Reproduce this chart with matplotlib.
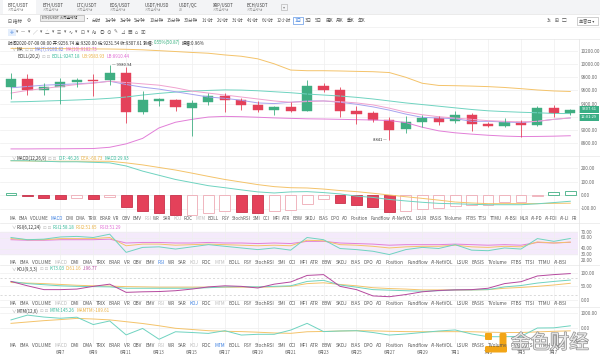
import numpy as np
import matplotlib
matplotlib.use("Agg")
import matplotlib.pyplot as plt
import matplotlib.patheffects as pe
from matplotlib.patches import Rectangle, FancyBboxPatch

plt.rcParams["font.family"] = ["Noto Sans CJK SC", "DejaVu Sans"]

# daily BTC/USDT candles, 6月4 .. 7月8
opens = [9659, 9776, 9609, 9659, 9730, 9765, 9766, 9868, 9278, 9446, 9461, 9335,
         9420, 9511, 9456, 9380, 9304, 9355, 9294, 9674, 9609, 9294, 9253, 9157,
         9009, 9116, 9183, 9131, 9233, 9085, 9055, 9126, 9076, 9335, 9256.74]
closes = [9776, 9613, 9659, 9735, 9765, 9750, 9868, 9278, 9457, 9472, 9344, 9411,
          9511, 9456, 9380, 9304, 9355, 9290, 9674, 9609, 9294, 9243, 9157, 9005,
          9116, 9183, 9126, 9228, 9091, 9055, 9126, 9076, 9335, 9253, 9307.61]
highs = [9861, 9850, 9709, 9791, 9790, 9850, 9980.94, 9953, 9595, 9480, 9470, 9457,
         9566, 9557, 9487, 9441, 9370, 9420, 9755, 9710, 9655, 9370, 9290, 9190,
         9218, 9233, 9210, 9289, 9264, 9120, 9183, 9150, 9370, 9380, 9320]
lows = [9472, 9530, 9533, 9396, 9655, 9515, 9685, 9100, 9245, 9365, 9290, 8913,
        9385, 9270, 9295, 9270, 9230, 9270, 9280, 9570, 9203, 9083, 9112, 8841,
        8956, 9051, 9080, 9100, 8975, 9040, 9040, 8898, 9060, 9200, 9231.54]

ma7 = [9640, 9660, 9680, 9690, 9700, 9715, 9740, 9690, 9650, 9620, 9580, 9540,
       9500, 9480, 9450, 9410, 9400, 9420, 9440, 9440, 9420, 9390, 9350, 9300,
       9240, 9190, 9180, 9170, 9130, 9130, 9120, 9110, 9130, 9160, 9180.82]
ma10 = [9560, 9600, 9630, 9660, 9690, 9710, 9740, 9720, 9700, 9680, 9640, 9590,
        9560, 9530, 9500, 9470, 9440, 9420, 9430, 9440, 9430, 9410, 9380, 9330,
        9270, 9230, 9200, 9180, 9160, 9140, 9130, 9120, 9130, 9160, 9182.73]
boll_ub = [10240, 10240, 10238, 10236, 10234, 10232, 10230, 10226, 10218, 10205,
           10192, 10178, 10166, 10140, 10120, 10081, 10005, 9910, 9900, 9900, 9896,
           9890, 9885, 9872, 9800, 9709, 9676, 9672, 9666, 9658, 9645, 9627, 9607,
           9592, 9583.93]
boll_mid = [9425, 9430, 9438, 9446, 9455, 9465, 9480, 9500, 9530, 9555, 9575, 9590,
            9600, 9608, 9605, 9595, 9580, 9565, 9545, 9530, 9515, 9495, 9470, 9440,
            9410, 9385, 9360, 9335, 9310, 9290, 9278, 9268, 9260, 9250, 9247.18]
boll_lb = [8710, 8710, 8712, 8712, 8714, 8716, 8735, 8787, 8870, 9030, 9116, 9160,
           9195, 9205, 9200, 9192, 9182, 9175, 9168, 9165, 9160, 9155, 9150, 9142,
           9110, 9040, 8985, 8955, 8935, 8918, 8905, 8898, 8900, 8904, 8910.44]

dif = [254, 254, 250, 246, 246, 242, 238, 215, 177, 146, 115, 92, 69, 54, 38, 23,
       15, 23, 25, 18, 8, -8, -18, -33, -44, -54, -62, -65, -69, -72, -72, -72,
       -65, -56, -46.26]
dea = [254, 252, 250, 250, 250, 250, 250, 238, 223, 204, 185, 162, 138, 115, 96,
       77, 62, 54, 52, 44, 33, 25, 13, 0, -13, -25, -38, -52, -59, -64, -64, -64,
       -64, -62, -60.73]
macd_hist = [15, -8, -25, -27, -24, -26, -18, -90, -120, -135, -148, -145, -135,
             -120, -128, -132, -122, -112, -63, -28, -60, -75, -90, -125, -122,
             -100, -95, -78, -76, -72, -55, -50, -5, 20, 29.93]

rsi1 = [60, 56, 57, 61, 62, 60, 66, 33, 42, 43, 39, 43, 47, 44, 41, 38, 41, 37,
        60, 56, 40, 38, 35, 29, 38, 42, 40, 47, 37, 36, 41, 39, 58, 53, 58.18]
rsi2 = [58, 56, 56, 58, 58, 58, 60, 45, 48, 48, 46, 47, 48, 47, 46, 45, 46, 45,
        55, 54, 47, 46, 44, 41, 43, 44, 44, 46, 43, 42, 44, 43, 52, 50, 51.65]
rsi3 = [56, 55, 55, 56, 56, 56, 57, 50, 51, 51, 50, 50, 51, 50, 50, 49, 50, 49,
        53, 53, 50, 49, 48, 46, 47, 47, 47, 48, 47, 46, 47, 46, 51, 50, 51.29]

kdj_k = [68, 60, 56, 52, 50, 49, 48, 43, 43, 43, 43, 43, 45, 48, 49, 48, 50, 52,
         68, 72, 55, 47, 38, 36, 34, 32, 34, 37, 37, 38, 48, 53, 62, 68, 73.03]
kdj_d = [64, 62, 60, 57, 54, 52, 51, 49, 48, 47, 47, 47, 47, 47, 47, 47, 48, 50,
         60, 63, 57, 52, 45, 42, 40, 37, 37, 37, 37, 38, 43, 46, 50, 55, 61.16]
kdj_j = [68, 52, 38, 38, 40, 50, 58, 28, 30, 31, 34, 40, 48, 52, 50, 44, 58, 66,
         90, 93, 50, 38, 15, 12, 20, 30, 35, 37, 38, 43, 60, 67, 88, 93, 96.77]

mtm = [540, 860, 730, 650, 720, 230, 470, -460, -30, -750, -250, -300, -360, -180,
       -470, -420, -420, -140, 310, -240, -200, -180, -300, -470, -400, -300, -200,
       -130, -400, -580, -580, -560, 0, 10, 145.26]
mamtm = [310, 400, 490, 560, 640, 600, 540, 420, 300, 150, -20, -100, -180, -220,
         -240, -280, -330, -356, -250, -230, -200, -180, -190, -220, -240, -250,
         -244, -244, -250, -280, -300, -300, -260, -220, -189.61]

date_pos = list(range(3, 34, 2))
date_labels = ["6月7", "6月9", "6月11", "6月13", "6月15", "6月17", "6月19", "6月21",
               "6月23", "6月25", "6月27", "6月29", "7月1", "7月3", "7月5", "7月7"]

indicators = ["MA", "EMA", "VOLUME", "MACD", "DMI", "DMA", "TRIX", "BRAR", "VR",
              "OBV", "EMV", "RSI", "WR", "SAR", "KDJ", "ROC", "MTM", "BOLL", "PSY",
              "StochRSI", "SMI", "CCI", "MFI", "ATR", "BBW", "SKDJ", "BIAS", "DPO",
              "AO", "Position", "Fundflow", "AI-NetVOL", "LSUR", "BASIS", "TVolume",
              "FTBS", "TTSI", "TTMU", "AI-BSI", "MLR", "AI-PD", "AI-FDI", "AI-LI", "FR"]

pairs = ["BTC/USDT", "ETH/USDT", "LTC/USDT", "EOS/USDT", "USDT/HUSD", "USDT/QC",
         "XRP/USDT", "BCH/USDT"]
periods = ["分时", "1分钟", "3分钟", "5分钟", "10分钟", "15分钟", "30分钟", "1小时",
           "2小时", "3小时", "4小时", "6小时", "12小时", "1日", "3日", "5日",
           "周K", "月K", "季K", "年K"]

# colours
UP, DN = "#3fae82", "#e4415a"
TEAL, ORANGE, PINK, LAV = "#6fd3c0", "#f4c36a", "#e27fd8", "#a7a3ef"
GRID, TXT, LIGHT, BLUE = "#efefef", "#555555", "#bdbdbd", "#3b7fe0"

W, H = 600, 359
XR = 578
STEP = 16.45
X0, X1 = -11 / STEP, (XR - 11) / STEP

fig = plt.figure(figsize=(6, 3.59), dpi=100)
fig.patch.set_facecolor("white")


def pane(top, bot, v1, y1, v2, y2, ticks):
    ax = fig.add_axes([0, 1 - bot / H, XR / W, (bot - top) / H])
    k = (v1 - v2) / (y2 - y1)
    ax.set_ylim(v2 - (bot - y2) * k, v1 + (y1 - top) * k)
    ax.set_xlim(X0, X1)
    ax.set_xticks(date_pos)
    ax.set_xticklabels([])
    ax.set_yticks(ticks)
    ax.set_yticklabels([f"{t:.2f}" for t in ticks])
    ax.yaxis.tick_right()
    ax.tick_params(length=0, labelsize=3.3, labelcolor="#666666", pad=2)
    ax.grid(True, color=GRID, lw=0.5)
    ax.set_axisbelow(True)
    for s in ax.spines.values():
        s.set_visible(False)
    return ax


idx = np.arange(len(opens))

# main candle pane
ax = pane(39, 156, 10200, 51, 8800, 143, list(range(8800, 10201, 200)))
o, c = np.array(opens), np.array(closes)
cols = np.where(c >= o, UP, DN)
ax.plot(idx, boll_ub, color=ORANGE, lw=0.7)
ax.plot(idx, boll_mid, color=TEAL, lw=0.7)
ax.plot(idx, boll_lb, color=PINK, lw=0.7)
ax.plot(idx, ma7, color=LAV, lw=0.7)
ax.plot(idx, ma10, color="#f0a2cf", lw=0.7)
ax.vlines(idx, lows, highs, colors=cols, lw=0.6)
ax.bar(idx, np.maximum(np.abs(c - o), 10), bottom=np.minimum(o, c), width=0.62,
       color=cols, edgecolor=cols, lw=0.3)
ax.text(6.15, 9980.94, "— 9980.94", fontsize=3, color="#333333", va="center")
ax.text(22.85, 8841, "8841 —", fontsize=3, color="#333333", va="center", ha="right")

# MACD pane
ax = pane(156, 216, 200, 168, 0, 195, [200, 100, 0, -100])
hist = np.array(macd_hist)
prev = np.concatenate([[-1e9], hist[:-1]])
rising = hist >= prev
edge = np.where(hist >= 0, UP, np.where(rising, "#eeaab4", "#c8324a"))
face = np.where(rising, "white", DN)
ax.bar(idx, hist, width=0.66, color=face, edgecolor=edge, lw=0.6)
ax.plot(idx, dea, color=ORANGE, lw=0.7)
ax.plot(idx, dif, color=TEAL, lw=0.7)

# RSI pane
ax = pane(223, 260, 70, 232, 20, 259.5, [70, 60, 40, 30, 20])
ax.axhspan(30, 70, color="#f4eafb", zorder=0)
ax.plot(idx, rsi3, color=PINK, lw=0.7)
ax.plot(idx, rsi2, color=ORANGE, lw=0.7)
ax.plot(idx, rsi1, color=TEAL, lw=0.7)

# KDJ pane
ax = pane(265, 302, 100, 272.7, 0, 300, [100, 50, 0])
ax.axhline(80, color="#cccccc", lw=0.5, ls=(0, (3, 3)))
ax.axhline(20, color="#cccccc", lw=0.5, ls=(0, (3, 3)))
ax.plot(idx, kdj_d, color=ORANGE, lw=0.7)
ax.plot(idx, kdj_k, color=TEAL, lw=0.7)
ax.plot(idx, kdj_j, color="#b5489e", lw=0.7)

# MTM pane
ax = pane(307, 344, 1000, 313, 0, 328, [1000, 0])
ax.plot(idx, mamtm, color=ORANGE, lw=0.7)
ax.plot(idx, mtm, color=TEAL, lw=0.7)

# date strip
ax = fig.add_axes([0, 1 - 348 / H, XR / W, 2 / H])
ax.set_xlim(X0, X1)
ax.set_xticks(date_pos)
ax.set_xticklabels(date_labels)
ax.set_yticks([])
ax.tick_params(length=0, labelsize=3.2, labelcolor="#666666", pad=1.5)
for s in ax.spines.values():
    s.set_visible(False)
ax.patch.set_alpha(0)

# overlay in pixel coordinates for the UI text
ov = fig.add_axes([0, 0, 1, 1], zorder=10)
ov.set_xlim(0, W)
ov.set_ylim(H, 0)
ov.axis("off")
ov.patch.set_alpha(0)
rend = fig.canvas.get_renderer()


def flow(x, y, parts, size=3.4, gap=1.5):
    for s, col in parts:
        t = ov.text(x, y, s, fontsize=size, color=col, va="center", ha="left")
        x += t.get_window_extent(rend).width + gap
    return x


def tab_row(y, words, x0, x1, blue, light, size=3.4):
    ts = [ov.text(0, y, w, fontsize=size, va="center") for w in words]
    ws = [t.get_window_extent(rend).width for t in ts]
    if sum(ws) > (x1 - x0) - 2.5 * (len(ws) - 1):
        f = ((x1 - x0) - 2.5 * (len(ws) - 1)) / sum(ws)
        for t in ts:
            t.set_fontsize(size * f)
        ws = [w * f for w in ws]
    gap = (x1 - x0 - sum(ws)) / (len(ws) - 1)
    x = x0
    for t, w, name in zip(ts, ws, words):
        t.set_x(x)
        t.set_color(BLUE if name == blue else LIGHT if name in light else TXT)
        x += w + gap


# top bars
ov.add_patch(Rectangle((0, 0), W, 13.5, color="#f3f4f6", lw=0))
ov.add_patch(Rectangle((3, 0), 33, 13.5, color="white", lw=0))
tab_x = [8, 43, 77, 110, 145, 179, 213, 247]
for x, p in zip(tab_x, pairs):
    ov.text(x, 5, p, fontsize=3.1, color="#444444", va="center")
    ov.text(x, 10, "ZB" if p == "USDT/QC" else "火币全球站", fontsize=2.3,
            color="#9a9a9a", va="center")
ov.add_patch(Rectangle((281, 4), 6, 6, fill=False, ec="#aaaaaa", lw=0.4))
ov.text(284, 7, "▾", fontsize=3, color="#888888", ha="center", va="center")
ov.plot([0, W], [13.5, 13.5], color="#e3e3e3", lw=0.5)
ov.plot([0, W], [27, 27], color="#eeeeee", lw=0.5)
ov.plot([0, W], [38.5, 38.5], color="#e6e6e6", lw=0.5)

flow(8, 20.5, [("⊟ 指标", TXT), ("⚙", TXT)], size=3.3, gap=4)
flow(84, 20.5, [("·", TXT)], size=3.3)
x = 92
for p in periods:
    col = BLUE if p == "1日" else TXT
    t = ov.text(x, 20.5, p, fontsize=3.3, color=col, va="center")
    w = t.get_window_extent(rend).width
    if p == "1日":
        ov.add_patch(Rectangle((x - 1, 17), w + 2, 7, fill=False, ec=BLUE, lw=0.4))
    x += w + 3.2
ov.add_patch(Rectangle((40, 14.5), 44, 6.5, fc="#ececec", ec="#9c9c9c", lw=0.4))
ov.text(42, 17.8, "ETH/USDT 火币全球站", fontsize=2.5, color="#333333", va="center")
flow(547, 20.5, [("3s", TXT), ("⊞", TXT), ("▢", TXT)], size=3.3, gap=3)
ov.add_patch(Rectangle((577, 16.5), 21, 8, fill=False, ec="#aaaaaa", lw=0.4))
ov.text(579, 20.5, "单窗口 ▾", fontsize=3, color=TXT, va="center")

icons = ["✛", "▾", "—", "▾", "╱", "▾", "△", "▾", "☰", "▾", "∿", "▾", "⊡", "▾",
         "Aa", "◎", "⊙", "✎", "⊿", "▦", "⌂", "▣"]
ov.add_patch(Rectangle((8, 28.5), 8, 7, fc="#e4eefc", lw=0))
flow(9.5, 32, [(s, BLUE if i == 0 else "#666666") for i, s in enumerate(icons)],
     size=3.3, gap=2.6)

# legends
GREEN_T = "#2fae7a"
flow(8, 42.5, [("时间2020-07-08 08:00 开:9256.74 高:9320.00 低:9231.54 收:9307.61 涨幅:",
                "#333333"), ("0.55%(50.87)", GREEN_T), ("振幅:0.96%", "#333333")],
     size=3.2, gap=1.2)
BOX = "⊡ ⊡"
flow(11, 49.5, [("∨", "#999999"), ("MA", "#333333"), (BOX, LIGHT),
                ("MA(7):9180.82", "#6f7ee8"), ("MA(10):9182.73", "#e26bd0")], size=3.2)
flow(18, 56, [("BOLL(20,2)", "#333333"), (BOX, LIGHT), ("BOLL:9247.18", "#35b99a"),
              ("UB:9583.93", "#eab040"), ("LB:8910.44", "#e06bd4")], size=3.2)
flow(11, 158.5, [("∨", "#999999"), ("MACD(12,26,9)", "#333333"), (BOX, LIGHT),
                 ("DIF:-46.26", "#35b99a"), ("DEA:-60.73", "#eab040"),
                 ("MACD:29.93", "#35b99a")], size=3.2)
flow(11, 227.5, [("∨", "#999999"), ("RSI(6,12,24)", "#333333"), (BOX, LIGHT),
                 ("RSI1:58.18", "#35b99a"), ("RSI2:51.65", "#eab040"),
                 ("RSI3:51.29", "#e06bd4")], size=3.2)
flow(11, 269, [("∨", "#999999"), ("KDJ(9,3,3)", "#333333"), (BOX, LIGHT),
               ("K:73.03", "#35b99a"), ("D:61.16", "#eab040"), ("J:96.77", "#b5489e")],
     size=3.2)
flow(11, 311, [("∨", "#999999"), ("MTM(12,6)", "#333333"), (BOX, LIGHT),
               ("MTM:145.26", "#35b99a"), ("MAMTM:-189.61", "#eab040")], size=3.2)

# indicator switch rows
tab_row(218.5, indicators, 10, 577, "MACD", {"RSI", "KDJ", "MTM"})
tab_row(262.5, indicators[:39], 10, 567, "RSI", {"MACD", "KDJ", "MTM"})
tab_row(303.5, indicators[:39], 10, 567, "KDJ", {"MACD", "RSI", "MTM"})
tab_row(345.5, indicators[:39], 10, 567, "MTM", {"MACD", "RSI", "KDJ"})

# pane separators and price scale border
for y in (156, 223, 265, 307):
    ov.plot([0, W], [y, y], color="#e8e8e8", lw=0.5)
ov.plot([XR + 0.5, XR + 0.5], [38.5, 349], color="#e3e3e3", lw=0.5)

# last price tags
ov.add_patch(Rectangle((579, 106), 20, 6.5, color="#3aae85", lw=0))
ov.text(589, 109.3, "9307.61", fontsize=3, color="white", ha="center", va="center")
ov.add_patch(Rectangle((579, 114), 20, 6.5, color="#3aae85", lw=0))
ov.text(589, 117.3, "12:01:29", fontsize=3, color="white", ha="center", va="center")

# watermark (sits over the bottom rows, as in the screenshot)
LOGO = "#f2a516"
ov.add_patch(FancyBboxPatch((499.5, 333), 7, 19, boxstyle="round,pad=0,rounding_size=1.5",
                            color=LOGO, lw=0))
ov.add_patch(FancyBboxPatch((485, 346), 22, 6.5, boxstyle="round,pad=0,rounding_size=1.5",
                            color=LOGO, lw=0))
ov.add_patch(FancyBboxPatch((485, 333), 7, 7, boxstyle="round,pad=0,rounding_size=1",
                            color=LOGO, lw=0))
ov.text(550, 343, "金色财经", fontsize=14, color="#e9e9e9", ha="center", va="center",
        path_effects=[pe.withStroke(linewidth=1.0, foreground="#8f8f8f")])

fig.savefig("out.png", dpi=100, facecolor="white")
